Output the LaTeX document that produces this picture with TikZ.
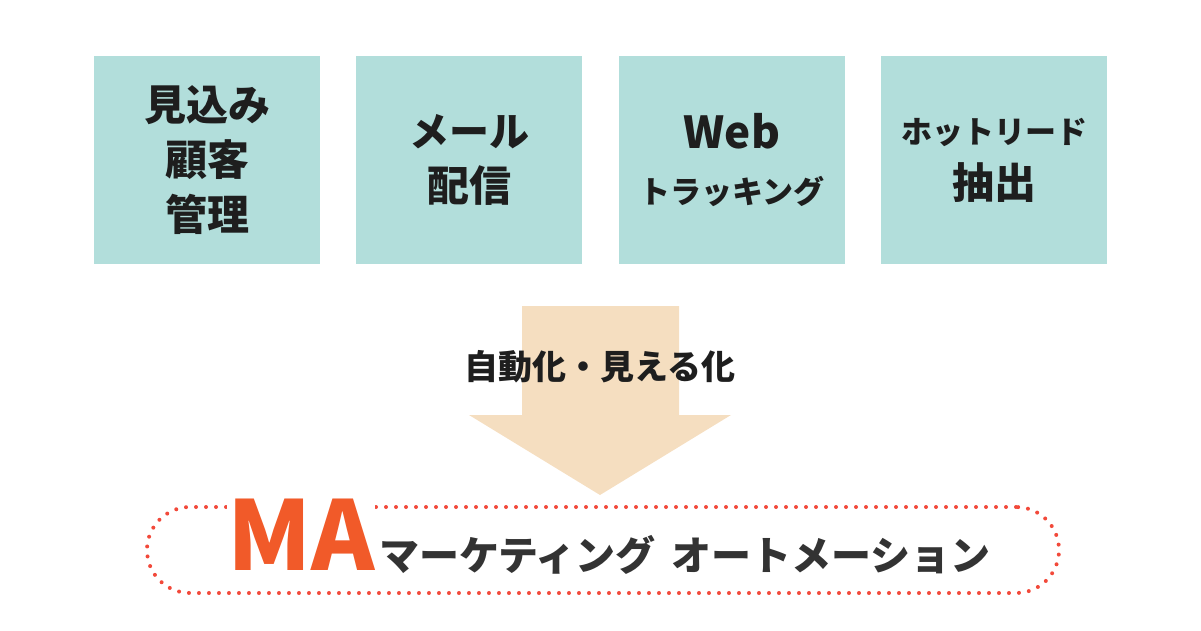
\documentclass[tikz,border=0pt]{standalone}
\usepackage{fontspec}
\setmainfont{Noto Sans CJK JP}
\usetikzlibrary{positioning}
\definecolor{boxteal}{HTML}{B2DEDB}
\definecolor{arrowpeach}{HTML}{F5DEC0}
\definecolor{maorange}{HTML}{F15A29}
\definecolor{dotred}{HTML}{F2493A}
\definecolor{inkdark}{HTML}{1E1E1E}
\definecolor{inkgray}{HTML}{333333}
\tikzset{
  task/.style={fill=boxteal, minimum width=226pt, minimum height=208pt, inner sep=0pt,
    align=center, text=inkdark, font=\bfseries\fontsize{42}{55}\selectfont},
}
\begin{document}
\begin{tikzpicture}[x=1pt,y=-1pt]
  \useasboundingbox (0,0) rectangle (1201,631);
  \node [task] (lead) at (207,160) {見込み\\顧客\\管理};
  \node [task,right=36pt of lead] (mail) {\fontsize{40}{53}\selectfont メール\\\fontsize{42}{53}\selectfont 配信};
  \node [task,right=36pt of mail] (web) {\fontsize{44}{50}\selectfont Web\\\fontsize{31}{50}\selectfont トラッキング};
  \node [task,right=36pt of web] (hot) {\fontsize{31}{51}\selectfont ホットリード\\\fontsize{42}{51}\selectfont 抽出};

  \fill [arrowpeach] (522,306) -- (679,306) -- (679,415) -- (731,415) -- (600,495) -- (469,415) -- (522,415) -- cycle;
  \node [text=inkdark,font=\bfseries\fontsize{34}{34}\selectfont] (auto) at (600,367) {自動化・見える化};

  \node [draw=dotred,line width=4pt,dash pattern=on 0pt off 10pt,line cap=round,rounded corners=43pt,
    minimum width=912pt,minimum height=86pt] (frame) at (603,550) {};
  \node [anchor=base,fill=white,inner sep=0pt,text=maorange,font=\bfseries\fontsize{96}{96}\selectfont] (ma) at (301,570) {MA};
  \node [anchor=base west,inner sep=0pt,text=inkgray,font=\bfseries\fontsize{40}{40}\selectfont] (mktg) at ([xshift=4pt]ma.base east) {マーケティング\hspace{6pt} オートメーション};
\end{tikzpicture}
\end{document}
